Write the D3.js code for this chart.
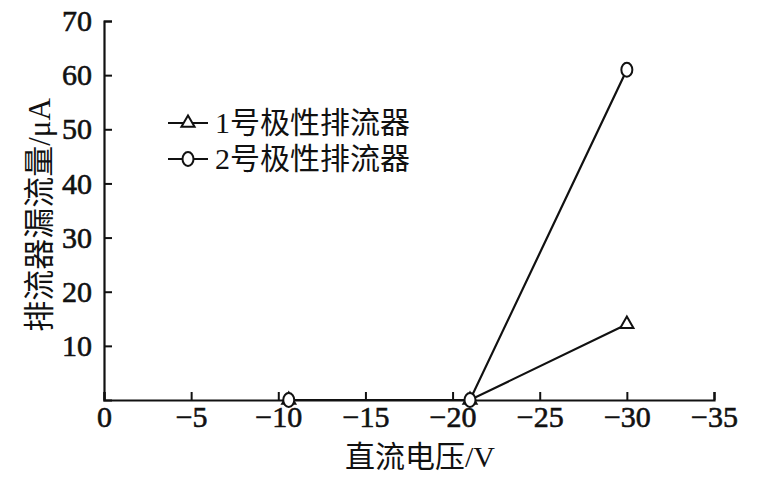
<!DOCTYPE html>
<html><head><meta charset="utf-8">
<script src="https://cdn.jsdelivr.net/npm/d3@7"></script>
<style>body{margin:0;background:#fff}svg{display:block}</style>
</head><body>
<svg id="c" width="761" height="486"></svg>
<script>
const xTicks = [0, -5, -10, -15, -20, -25, -30, -35];
const yTicks = [10, 20, 30, 40, 50, 60, 70];
const voltage = [-10.6, -21, -30];
const series1 = [0, 0, 14];
const series2 = [0, 0, 61];
const seriesNames = ["1号极性排流器", "2号极性排流器"];
const xTitle = "直流电压/V";
const yTitle = "排流器漏流量/μA";

const FONT = "'Liberation Serif','Times New Roman','Noto Sans CJK SC',serif";
const svg = d3.select("#c");
const x = d3.scaleLinear().domain([0, -35]).range([104, 714]);
const y = d3.scaleLinear().domain([0, 70]).range([400, 21]);

function styleText(sel, size, sw) {
  sel.attr("font-family", FONT).attr("font-size", size).attr("fill", "#111")
    .attr("stroke", sw ? "#111" : "none").attr("stroke-width", sw || 0);
}

const xa = svg.append("g").attr("transform", "translate(0,400)")
  .call(d3.axisBottom(x).tickValues(xTicks).tickSize(-8).tickPadding(6).tickFormat(d => d === 0 ? "0" : "\u2212" + Math.abs(d)));
const ya = svg.append("g").attr("transform", "translate(104,0)")
  .call(d3.axisLeft(y).tickValues(yTicks).tickSize(-8).tickPadding(12));
[xa, ya].forEach(a => {
  a.select(".domain").attr("stroke", "#111").attr("stroke-width", 2.2);
  a.selectAll(".tick line").attr("stroke", "#111").attr("stroke-width", 2);
  styleText(a.selectAll("text"), 30, 0.6);
});
xa.selectAll("text").attr("dy", "0.71em");

styleText(svg.append("text").attr("x", 420).attr("y", 467).attr("text-anchor", "middle").text(xTitle), 30, 0);
styleText(svg.append("text").attr("transform", "translate(50,215) rotate(-90)").attr("text-anchor", "middle").text(yTitle), 31, 0);

const line = d3.line().x(d => x(d[0])).y(d => y(d[1]));
const d1 = voltage.map((v, i) => [v, series1[i]]);
const d2 = voltage.map((v, i) => [v, series2[i]]);
[d1, d2].forEach(d => svg.append("path").datum(d).attr("d", line)
  .attr("fill", "none").attr("stroke", "#111").attr("stroke-width", 2.2));

const tri = d3.symbol().type(d3.symbolTriangle).size(75);
function triMark(g, cx, cy) {
  g.append("path").attr("d", tri()).attr("transform", `translate(${cx},${cy})`)
    .attr("fill", "#fff").attr("stroke", "#111").attr("stroke-width", 2);
}
function circMark(g, cx, cy) {
  g.append("ellipse").attr("cx", cx).attr("cy", cy).attr("rx", 5.5).attr("ry", 7)
    .attr("fill", "#fff").attr("stroke", "#111").attr("stroke-width", 2);
}
d1.forEach(d => triMark(svg, x(d[0]), y(d[1])));
d2.forEach(d => circMark(svg, x(d[0]), y(d[1])));

// legend
const ly = [123, 159];
ly.forEach((yy, i) => {
  svg.append("line").attr("x1", 168).attr("x2", 208).attr("y1", yy).attr("y2", yy)
    .attr("stroke", "#111").attr("stroke-width", 2.2);
  if (i === 0) triMark(svg, 188, yy); else circMark(svg, 188, yy);
  styleText(svg.append("text").attr("x", 215).attr("y", yy + 10).text(seriesNames[i]), 30, 0);
});
</script>
</body></html>
